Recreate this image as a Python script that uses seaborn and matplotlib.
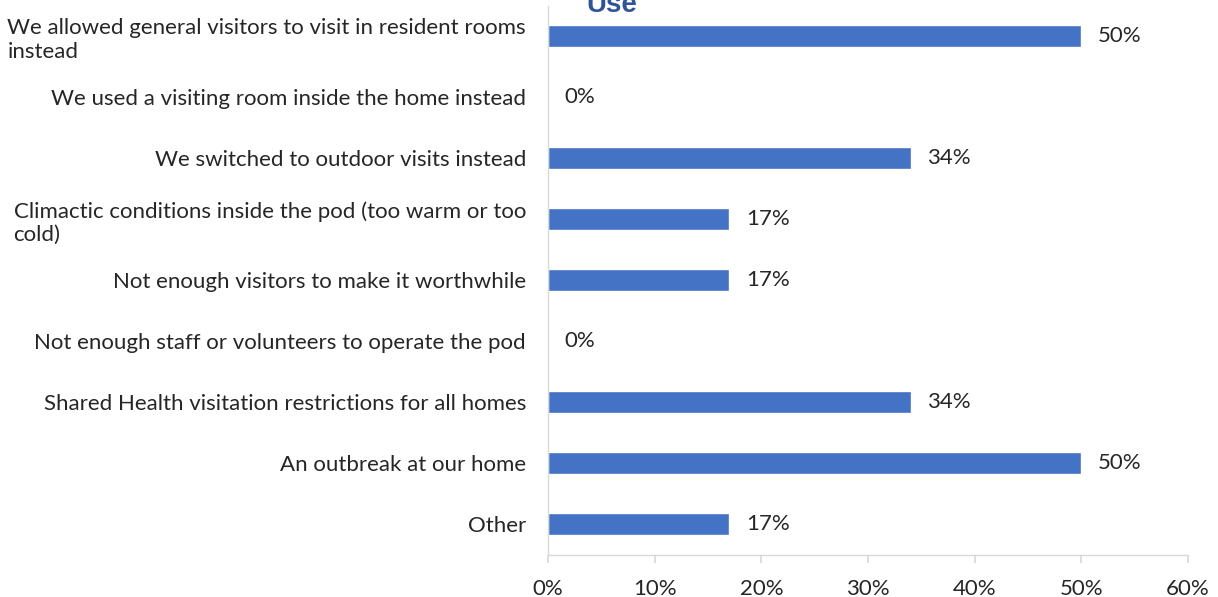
import matplotlib
matplotlib.use("Agg")
import matplotlib.pyplot as plt
import seaborn as sns
import pandas as pd
from matplotlib.ticker import FuncFormatter

categories = [
    "We allowed general visitors to visit in resident rooms\ninstead",
    "We used a visiting room inside the home instead",
    "We switched to outdoor visits instead",
    "Climactic conditions inside the pod (too warm or too\ncold)",
    "Not enough visitors to make it worthwhile",
    "Not enough staff or volunteers to operate the pod",
    "Shared Health visitation restrictions for all homes",
    "An outbreak at our home",
    "Other",
]
values = [50, 0, 34, 17, 17, 0, 34, 50, 17]
x_ticks = [0, 10, 20, 30, 40, 50, 60]
title_text = "Use"

df = pd.DataFrame({"reason": categories, "pct": values})

sns.set_theme(style="white")
plt.rcParams["font.family"] = ["Lato", "DejaVu Sans"]

fig = plt.figure(figsize=(12.18, 5.97), dpi=100)
ax = fig.add_axes([0.45, 0.0704, 0.5254, 0.9196])

sns.barplot(data=df, x="pct", y="reason", orient="h", color="#4472C4",
            saturation=1, width=0.36, ax=ax)

ax.set_xlim(0, 60)
ax.set_ylim(len(categories) - 0.5, -0.5)
ax.set_xticks(x_ticks)
ax.xaxis.set_major_formatter(FuncFormatter(lambda v, p: f"{v:.0f}%"))
ax.set_xlabel("")
ax.set_ylabel("")

for s in ["top", "right"]:
    ax.spines[s].set_visible(False)
for s in ["left", "bottom"]:
    ax.spines[s].set_color("#D9D9D9")
    ax.spines[s].set_linewidth(1.0)

ax.tick_params(axis="x", bottom=True, length=6, color="#D9D9D9",
               labelsize=16, labelcolor="#262626", pad=11)
ax.tick_params(axis="y", left=False, labelsize=16, labelcolor="#262626", pad=10)
for lbl in ax.get_yticklabels():
    lbl.set_multialignment("left")
    lbl.set_linespacing(1.2)

for i, v in enumerate(values):
    ax.annotate(f"{v}%", xy=(v, i), xytext=(12, 0), textcoords="offset points",
                ha="left", va="center", fontsize=16, color="#262626")

fig.text(0.5025, 0.98, title_text, ha="center", va="baseline", fontsize=20,
         fontweight="bold", color="#2F5597", family=["Liberation Sans", "DejaVu Sans"])

fig.savefig("out.png", dpi=100)
